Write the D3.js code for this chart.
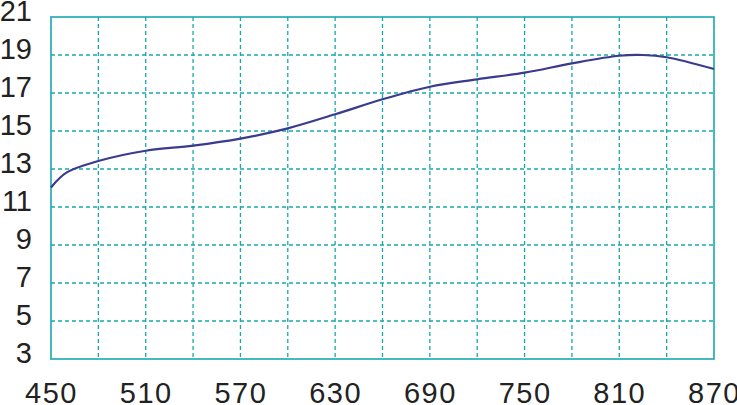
<!DOCTYPE html>
<html>
<head>
<meta charset="utf-8">
<script src="https://cdn.jsdelivr.net/npm/d3@7"></script>
<style>
  html, body { margin: 0; padding: 0; background: #fff; }
  svg { display: block; }
</style>
</head>
<body>
<svg id="chart" width="737" height="405"></svg>
<script>
const xValues = [450, 460, 480, 510, 540, 570, 600, 630, 660, 690, 720, 750, 780, 810, 825, 840, 870];
const yValues = [12.03, 12.82, 13.42, 13.96, 14.23, 14.6, 15.14, 15.88, 16.67, 17.33, 17.72, 18.07, 18.56, 18.96, 19.0, 18.88, 18.26];
const xTickLabels = [450, 510, 570, 630, 690, 750, 810, 870];
const yTickLabels = [3, 5, 7, 9, 11, 13, 15, 17, 19, 21];
const xGrid = d3.range(450, 871, 30);
const yGrid = d3.range(3, 22, 2);

const svg = d3.select("#chart");
const margin = { left: 51, top: 17, right: 737 - 714, bottom: 405 - 359 };
const W = 737, H = 405;
const x = d3.scaleLinear().domain([450, 870]).range([margin.left, W - margin.right]);
const y = d3.scaleLinear().domain([3, 21]).range([H - margin.bottom, margin.top]);

const gridColor = "#17a8ad";

// grid
svg.append("g").selectAll("line").data(xGrid.slice(1, -1)).join("line")
  .attr("x1", d => x(d)).attr("x2", d => x(d))
  .attr("y1", y(21)).attr("y2", y(3))
  .attr("stroke", gridColor).attr("stroke-width", 1.3).attr("stroke-dasharray", "4,3");
svg.append("g").selectAll("line").data(yGrid.slice(1, -1)).join("line")
  .attr("x1", x(450)).attr("x2", x(870))
  .attr("y1", d => y(d)).attr("y2", d => y(d))
  .attr("stroke", gridColor).attr("stroke-width", 1.3).attr("stroke-dasharray", "4,3");

// border
svg.append("rect")
  .attr("x", x(450)).attr("y", y(21))
  .attr("width", x(870) - x(450)).attr("height", y(3) - y(21))
  .attr("fill", "none").attr("stroke", gridColor).attr("stroke-width", 1.6);

// line
const line = d3.line().x(d => x(d[0])).y(d => y(d[1])).curve(d3.curveCatmullRom.alpha(0.5));
svg.append("path")
  .datum(xValues.map((v, i) => [v, yValues[i]]))
  .attr("d", line)
  .attr("fill", "none").attr("stroke", "#3a3a8e").attr("stroke-width", 2.2);

// axes labels
const font = "'Liberation Sans', Arial, sans-serif";
const xAxis = d3.axisBottom(x).tickValues(xTickLabels).tickSize(0).tickPadding(0);
const gx = svg.append("g").attr("transform", `translate(0,${y(3)})`).call(xAxis);
gx.select(".domain").remove();
gx.selectAll("text").attr("font-family", font).attr("font-size", 29).attr("fill", "#222")
  .attr("letter-spacing", "1.5px")
  .attr("y", 44).attr("dy", 0);

const yAxis = d3.axisLeft(y).tickValues(yTickLabels).tickSize(0).tickPadding(0);
const gy = svg.append("g").attr("transform", `translate(32,0)`).call(yAxis);
gy.select(".domain").remove();
gy.selectAll("text").attr("font-family", font).attr("font-size", 29).attr("fill", "#222")
  .attr("x", 0).attr("dy", "0.32em").attr("y", -6);
</script>
</body>
</html>
